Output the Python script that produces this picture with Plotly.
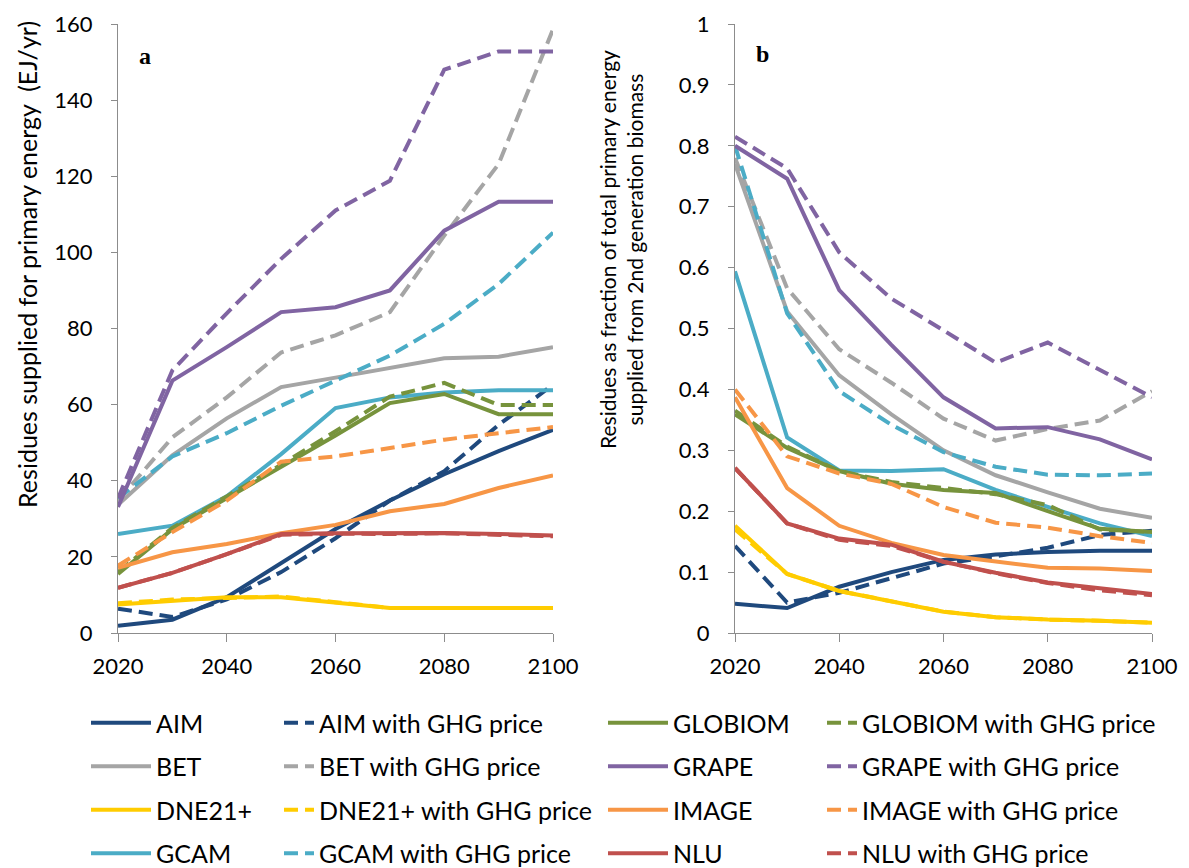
import plotly.graph_objects as go

years = [2020, 2030, 2040, 2050, 2060, 2070, 2080, 2090, 2100]

models = ["AIM", "BET", "DNE21+", "GCAM", "GLOBIOM", "GRAPE", "IMAGE", "NLU"]
colors = {"AIM": "#1F497D", "BET": "#A5A5A5", "DNE21+": "#FFCC00", "GCAM": "#4BACC6",
          "GLOBIOM": "#77933C", "GRAPE": "#8064A2", "IMAGE": "#F79646", "NLU": "#C0504D"}

# Panel a: residues supplied for primary energy (EJ/yr)
a_AIM = [1.9, 3.5, 9.4, 18.2, 27.3, 34.8, 41.7, 47.8, 53.4]
a_AIM_ghg = [6.4, 4.2, 8.8, 16.0, 24.9, 34.8, 42.5, 54.7, 65.2]
a_BET = [33.7, 46.7, 56.4, 64.6, 67.1, 69.6, 72.2, 72.6, 75.1]
a_BET_ghg = [34.8, 51.4, 61.9, 73.7, 78.2, 84.3, 104.4, 123.2, 158.6]
a_DNE = [7.5, 8.5, 9.4, 9.4, 8.1, 6.6, 6.6, 6.6, 6.6]
a_DNE_ghg = [7.8, 8.8, 9.2, 9.6, 8.1, 6.6, 6.6, 6.6, 6.6]
a_GCAM = [26.0, 28.2, 35.9, 47.0, 59.1, 61.9, 63.2, 63.8, 63.8]
a_GCAM_ghg = [35.4, 46.4, 52.5, 59.7, 66.3, 72.9, 81.2, 91.7, 105.2]
a_GLOBIOM = [15.5, 27.3, 35.4, 43.6, 51.9, 60.4, 62.8, 57.5, 57.5]
a_GLOBIOM_ghg = [16.0, 27.6, 35.9, 44.2, 53.0, 62.1, 65.7, 59.9, 59.9]
a_GRAPE = [33.1, 66.3, 75.1, 84.3, 85.6, 90.0, 105.7, 113.3, 113.3]
a_GRAPE_ghg = [35.4, 69.0, 84.0, 98.3, 111.0, 118.8, 148.0, 152.8, 152.8]
a_IMAGE = [17.1, 21.2, 23.4, 26.2, 28.4, 32.0, 33.9, 38.1, 41.4]
a_IMAGE_ghg = [17.7, 26.5, 34.8, 45.0, 46.4, 48.6, 50.8, 52.5, 54.1]
a_NLU = [11.9, 15.8, 20.7, 26.0, 26.2, 26.2, 26.3, 26.0, 25.6]
a_NLU_ghg = [11.9, 15.8, 20.7, 25.8, 26.1, 26.0, 26.2, 25.7, 25.4]

# Panel b: residues as fraction of total primary energy from 2nd generation biomass
b_AIM = [0.048, 0.041, 0.076, 0.100, 0.120, 0.129, 0.133, 0.135, 0.135]
b_AIM_ghg = [0.143, 0.050, 0.066, 0.090, 0.114, 0.126, 0.140, 0.161, 0.168]
b_BET = [0.770, 0.528, 0.423, 0.359, 0.300, 0.259, 0.231, 0.204, 0.189]
b_BET_ghg = [0.780, 0.566, 0.466, 0.411, 0.352, 0.316, 0.335, 0.349, 0.397]
b_DNE = [0.176, 0.097, 0.069, 0.052, 0.035, 0.026, 0.022, 0.020, 0.017]
b_DNE_ghg = [0.170, 0.097, 0.069, 0.052, 0.035, 0.026, 0.022, 0.020, 0.017]
b_GCAM = [0.594, 0.321, 0.267, 0.266, 0.269, 0.235, 0.207, 0.180, 0.159]
b_GCAM_ghg = [0.800, 0.525, 0.397, 0.342, 0.297, 0.273, 0.260, 0.259, 0.262]
b_GLOBIOM = [0.359, 0.304, 0.266, 0.245, 0.235, 0.230, 0.200, 0.171, 0.166]
b_GLOBIOM_ghg = [0.365, 0.306, 0.266, 0.248, 0.238, 0.228, 0.210, 0.170, 0.166]
b_GRAPE = [0.800, 0.746, 0.563, 0.473, 0.387, 0.336, 0.338, 0.318, 0.285]
b_GRAPE_ghg = [0.815, 0.763, 0.625, 0.549, 0.497, 0.444, 0.477, 0.432, 0.387]
b_IMAGE = [0.387, 0.238, 0.176, 0.148, 0.128, 0.117, 0.107, 0.106, 0.102]
b_IMAGE_ghg = [0.400, 0.290, 0.262, 0.245, 0.207, 0.181, 0.173, 0.159, 0.148]
b_NLU = [0.271, 0.180, 0.155, 0.145, 0.117, 0.099, 0.083, 0.073, 0.064]
b_NLU_ghg = [0.271, 0.180, 0.153, 0.143, 0.117, 0.098, 0.082, 0.070, 0.062]

panel_a = {"AIM": (a_AIM, a_AIM_ghg), "BET": (a_BET, a_BET_ghg), "DNE21+": (a_DNE, a_DNE_ghg),
           "GCAM": (a_GCAM, a_GCAM_ghg), "GLOBIOM": (a_GLOBIOM, a_GLOBIOM_ghg),
           "GRAPE": (a_GRAPE, a_GRAPE_ghg), "IMAGE": (a_IMAGE, a_IMAGE_ghg), "NLU": (a_NLU, a_NLU_ghg)}
panel_b = {"AIM": (b_AIM, b_AIM_ghg), "BET": (b_BET, b_BET_ghg), "DNE21+": (b_DNE, b_DNE_ghg),
           "GCAM": (b_GCAM, b_GCAM_ghg), "GLOBIOM": (b_GLOBIOM, b_GLOBIOM_ghg),
           "GRAPE": (b_GRAPE, b_GRAPE_ghg), "IMAGE": (b_IMAGE, b_IMAGE_ghg), "NLU": (b_NLU, b_NLU_ghg)}

# page body has an 8px margin: the figure starts at screen (8, 8)
OFF = 8
W, H = 1189 - OFF, 868 - OFF


def fx(sx):
    return (sx - OFF) / W


def fy(sy):
    return 1 - (sy - OFF) / H


FONT = "Lato"
LW = 4
DASH = "14px,7px"

fig = go.Figure()

first_col = ["AIM", "BET", "DNE21+", "GCAM"]
for m in models:
    leg_solid = "legend" if m in first_col else "legend3"
    leg_dash = "legend2" if m in first_col else "legend4"
    sa, da = panel_a[m]
    sb, db = panel_b[m]
    fig.add_trace(go.Scatter(x=years, y=sa, mode="lines", name=m, legend=leg_solid,
                             legendgroup=m, line=dict(color=colors[m], width=LW),
                             xaxis="x", yaxis="y"))
    fig.add_trace(go.Scatter(x=years, y=da, mode="lines", name=m + " with GHG price",
                             legend=leg_dash, legendgroup=m + "g",
                             line=dict(color=colors[m], width=LW, dash=DASH),
                             xaxis="x", yaxis="y"))
    fig.add_trace(go.Scatter(x=years, y=sb, mode="lines", showlegend=False, legendgroup=m,
                             line=dict(color=colors[m], width=LW), xaxis="x2", yaxis="y2"))
    fig.add_trace(go.Scatter(x=years, y=db, mode="lines", showlegend=False, legendgroup=m + "g",
                             line=dict(color=colors[m], width=LW, dash=DASH),
                             xaxis="x2", yaxis="y2"))

y_dom = [fy(633), fy(24)]
axis_color = "#8C8C8C"
common_x = dict(range=[2020, 2100], tickvals=[2020, 2040, 2060, 2080, 2100], showgrid=False,
                zeroline=False, showline=True, linecolor=axis_color, linewidth=1.3,
                ticks="outside", ticklen=8, tickcolor=axis_color, tickwidth=1.3,
                tickfont=dict(family=FONT, size=22, color="black"), ticklabelstandoff=5)
common_y = dict(showgrid=False, zeroline=False, showline=True, linecolor=axis_color,
                linewidth=1.3, ticks="outside", ticklen=6, tickcolor=axis_color, tickwidth=1.3,
                tickfont=dict(family=FONT, size=22, color="black"), ticklabelstandoff=14)

fig.update_layout(
    width=W, height=H,
    margin=dict(l=0, r=0, t=0, b=0, autoexpand=False),
    paper_bgcolor="white", plot_bgcolor="white",
    xaxis=dict(domain=[fx(118), fx(553)], anchor="y", **common_x),
    yaxis=dict(domain=y_dom, anchor="x", range=[0, 160], dtick=20, **common_y),
    xaxis2=dict(domain=[fx(735), fx(1152)], anchor="y2", **common_x),
    yaxis2=dict(domain=y_dom, anchor="x2", range=[0, 1], dtick=0.1, **common_y),
)

leg_font = dict(family=FONT, size=25, color="black")
leg_top = 700
# (legend key, screen x where its text starts, symbol width)
for key, text_x, iw in [("legend", 156, 60), ("legend2", 319, 30),
                        ("legend3", 673, 60), ("legend4", 862, 30)]:
    fig.update_layout({key: dict(x=fx(text_x - iw - 10), y=fy(leg_top), xanchor="left", yanchor="top",
                                 orientation="v", font=leg_font, traceorder="grouped",
                                 tracegroupgap=8, bgcolor="rgba(0,0,0,0)", itemwidth=iw)})

annos = [
    dict(text="<b>a</b>", x=fx(145), y=fy(56), font=dict(family="Liberation Serif", size=24, color="black")),
    dict(text="<b>b</b>", x=fx(763), y=fy(54), font=dict(family="Liberation Serif", size=24, color="black")),
    dict(text="Residues supplied for primary energy  (EJ/yr)", x=fx(27), y=fy(265), textangle=-90,
         font=dict(family=FONT, size=25, color="black")),
    dict(text="Residues as fraction of total primary energy<br>supplied from 2nd generation biomass",
         x=fx(621), y=fy(250), textangle=-90,
         font=dict(family=FONT, size=21, color="black")),
]
for a in annos:
    fig.add_annotation(xref="paper", yref="paper", showarrow=False, xanchor="center", yanchor="middle", **a)

fig.write_html("out.html")
